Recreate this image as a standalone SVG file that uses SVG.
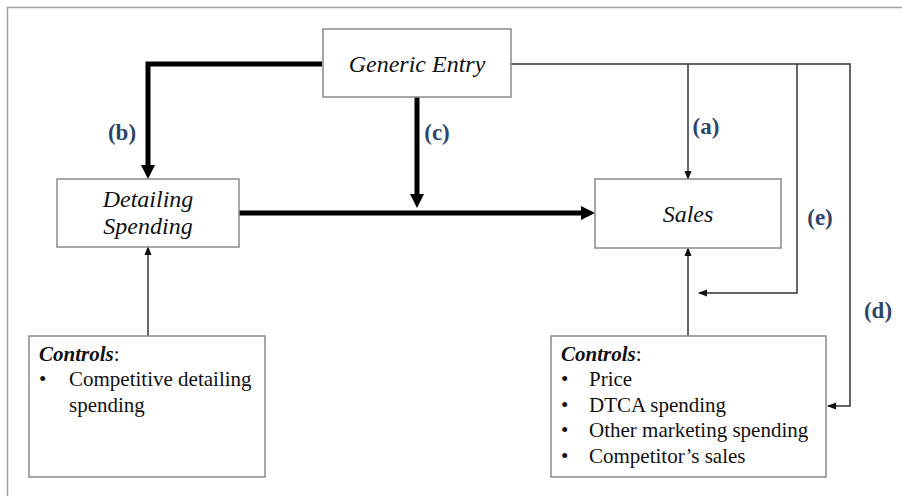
<svg xmlns="http://www.w3.org/2000/svg" width="902" height="496" viewBox="0 0 902 496">
<style>
.box{fill:#fff;stroke:#8a8a8a;stroke-width:1.5}
.t{font-family:'Liberation Serif','Times New Roman',Tinos,'DejaVu Serif',serif;fill:#111}
.it{font-style:italic;font-size:24px}
.ctl{font-size:21px}
.lbl{font-family:'Liberation Serif','Times New Roman',Tinos,'DejaVu Serif',serif;font-weight:bold;font-size:23px;fill:#2f4567;text-anchor:middle}
.thick{fill:none;stroke:#000;stroke-width:5}
.thin{fill:none;stroke:#333;stroke-width:1.5}
</style>
<defs>
<marker id="ah" markerUnits="userSpaceOnUse" markerWidth="14" markerHeight="14" refX="4" refY="7" orient="auto">
<path d="M0,0 L14,7 L0,14 z" fill="#000"/>
</marker>
<marker id="ah2" markerUnits="userSpaceOnUse" markerWidth="9" markerHeight="8" refX="8" refY="4" orient="auto">
<path d="M0,0.5 L9,4 L0,7.5 z" fill="#111"/>
</marker>
</defs>
<rect width="902" height="496" fill="#fff"/>
<path d="M7.5,496 V7.5 H902" fill="none" stroke="#a0a0a0" stroke-width="1.5"/>
<g id="connectors">
<path class="thick" d="M322,64 H148 V169" marker-end="url(#ah)"/>
<path class="thick" d="M417,97 V198" marker-end="url(#ah)"/>
<path class="thick" d="M239,213 H585" marker-end="url(#ah)"/>
<path class="thin" d="M511,64 H850 V406 H828" marker-end="url(#ah2)"/>
<path class="thin" d="M688,64 V179" marker-end="url(#ah2)"/>
<path class="thin" d="M797,64 V293 H699" marker-end="url(#ah2)"/>
<path class="thin" d="M148,336 V247" marker-end="url(#ah2)"/>
<path class="thin" d="M688,336 V248" marker-end="url(#ah2)"/>
<text class="lbl" x="122" y="140">(b)</text>
<text class="lbl" x="437" y="140">(c)</text>
<text class="lbl" x="706" y="134">(a)</text>
<text class="lbl" x="820" y="225">(e)</text>
<text class="lbl" x="878" y="318">(d)</text>
</g>
<g id="generic-entry">
<rect class="box" x="323" y="29" width="188" height="68"/>
<text class="t it" x="417" y="72" text-anchor="middle">Generic Entry</text>
</g>
<g id="detailing-spending">
<rect class="box" x="57" y="179" width="182" height="68"/>
<text class="t it" x="148" y="207" text-anchor="middle">Detailing</text>
<text class="t it" x="148" y="234" text-anchor="middle">Spending</text>
</g>
<g id="sales">
<rect class="box" x="595" y="179" width="186" height="69"/>
<text class="t it" x="688" y="222" text-anchor="middle">Sales</text>
</g>
<g id="controls-left">
<rect class="box" x="29" y="336" width="236" height="141"/>
<text class="t ctl" x="39" y="361"><tspan font-weight="bold" font-style="italic">Controls</tspan>:</text>
<text class="t ctl" x="39" y="386">•</text>
<text class="t ctl" x="69" y="386">Competitive detailing</text>
<text class="t ctl" x="69" y="412">spending</text>
</g>
<g id="controls-right">
<rect class="box" x="551" y="336" width="275" height="141"/>
<text class="t ctl" x="561" y="361"><tspan font-weight="bold" font-style="italic">Controls</tspan>:</text>
<text class="t ctl" x="561" y="386">•</text>
<text class="t ctl" x="589" y="386">Price</text>
<text class="t ctl" x="561" y="412">•</text>
<text class="t ctl" x="589" y="412">DTCA spending</text>
<text class="t ctl" x="561" y="437">•</text>
<text class="t ctl" x="589" y="437">Other marketing spending</text>
<text class="t ctl" x="561" y="463">•</text>
<text class="t ctl" x="589" y="463">Competitor’s sales</text>
</g>
</svg>
